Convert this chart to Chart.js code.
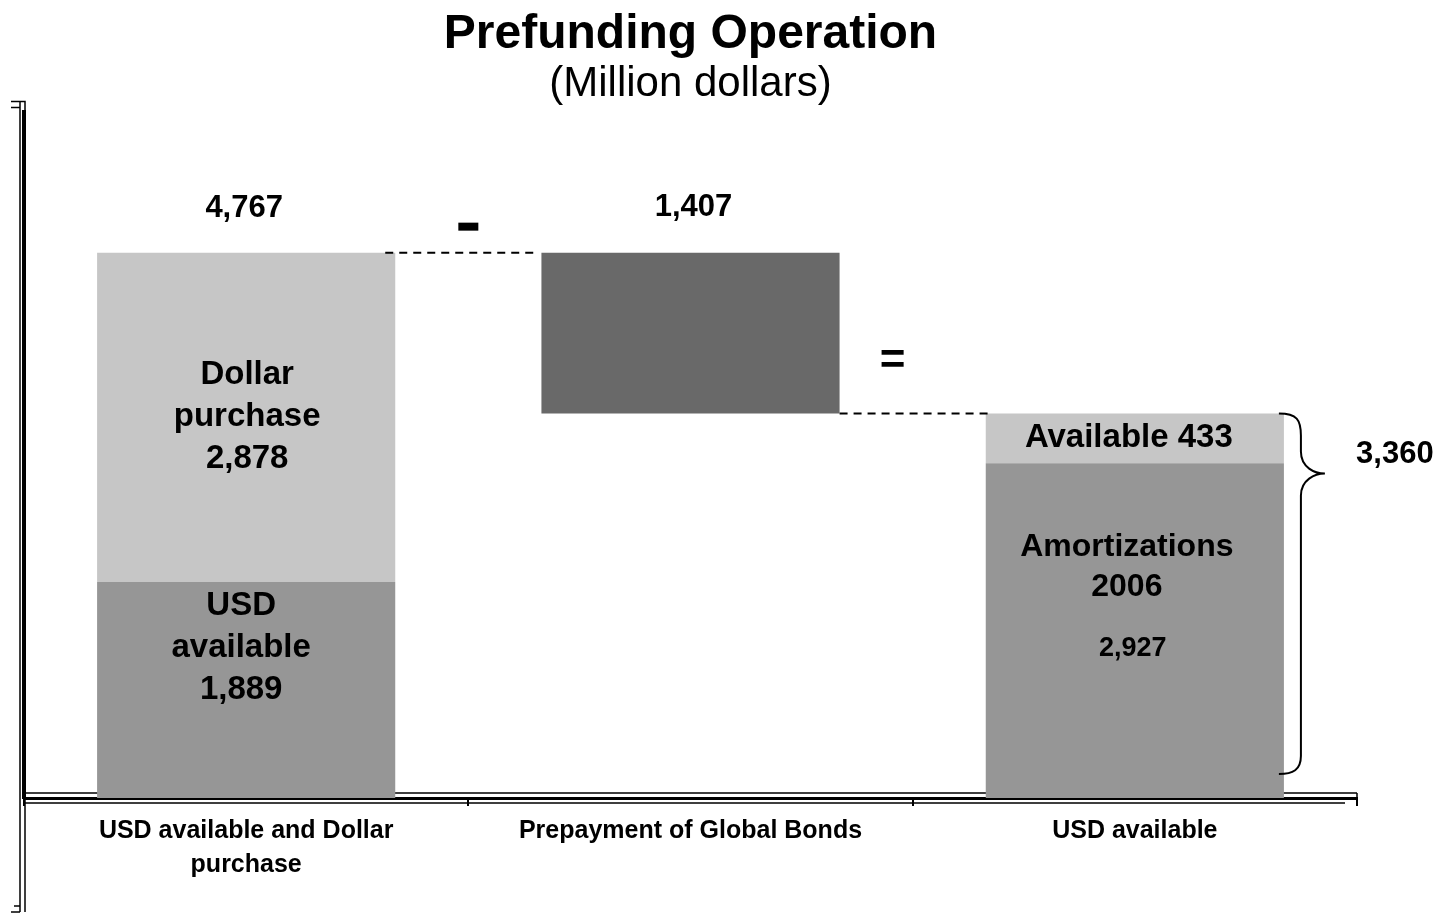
<!DOCTYPE html>
<html>
<head>
<meta charset="utf-8">
<script src="https://cdn.jsdelivr.net/npm/chart.js@4/dist/chart.umd.min.js"></script>
<style>
  html, body { margin: 0; padding: 0; background: #fff; }
  #wrap { width: 1440px; height: 917px; position: relative; }
</style>
</head>
<body>
<div id="wrap"><canvas id="c" width="1440" height="917"></canvas></div>
<script>
// ---- Data ----
const categories = [['USD available and Dollar', 'purchase'], 'Prepayment of Global Bonds', 'USD available'];
const baseOffset = [0, 3360, 0];          // invisible floor of each bar
const lowerValues = [1889, 1407, 2927];   // lower segment
const upperValues = [2878, 0, 433];       // upper segment
const totals = [4767, 1407, 3360];
const lowerNames = [['USD', 'available'], null, ['Amortizations', '2006']];
const upperNames = [['Dollar', 'purchase'], null, ['Available']];
const titleText = 'Prefunding Operation';
const subtitleText = '(Million dollars)';

const FONT = "'Liberation Sans', Arial, Helvetica, sans-serif";
const LIGHT = '#c6c6c6', MID = '#969696', DARK = '#696969';
const fmt = v => v.toLocaleString('en-US');

const annotate = {
  id: 'annotate',
  afterDatasetsDraw(chart) {
    const ctx = chart.ctx;
    const ys = chart.scales.y;
    const lo = chart.getDatasetMeta(1).data;
    const half = el => el.width / 2;
    ctx.save();
    ctx.fillStyle = '#000';
    ctx.textAlign = 'center';
    ctx.textBaseline = 'middle';
    const txt = (s, x, y, size) => { ctx.font = 'bold ' + size + 'px ' + FONT; ctx.fillText(s, x, y); };

    // Bar 0
    const b0x = lo[0].x;
    const u0Top = ys.getPixelForValue(totals[0]);
    const mid0 = ys.getPixelForValue(baseOffset[0] + lowerValues[0]);
    txt(fmt(totals[0]), b0x - 2, u0Top - 44, 31);
    const uc0 = (u0Top + mid0) / 2;
    [...upperNames[0], fmt(upperValues[0])].forEach((s, k) => txt(s, b0x + 1, uc0 - 42 + k * 42, 33));
    [...lowerNames[0], fmt(lowerValues[0])].forEach((s, k) => txt(s, b0x - 5, mid0 + 24 + k * 42, 33));

    // Bar 1
    const b1x = lo[1].x;
    const b1Top = ys.getPixelForValue(baseOffset[1] + lowerValues[1]);
    txt(fmt(lowerValues[1]), b1x + 3, b1Top - 45, 31);

    // Bar 2
    const b2x = lo[2].x;
    const t2 = ys.getPixelForValue(totals[2]);
    const mid2 = ys.getPixelForValue(lowerValues[2]);
    txt(upperNames[2][0] + ' ' + fmt(upperValues[2]), b2x - 6, (t2 + mid2) / 2, 33);
    lowerNames[2].forEach((s, k) => txt(s, b2x - 8, mid2 + 84 + k * 40, 32));
    txt(fmt(lowerValues[2]), b2x - 2, mid2 + 185, 27);

    // operators
    const bound01 = (lo[0].x + lo[1].x) / 2, bound12 = (lo[1].x + lo[2].x) / 2;
    ctx.fillRect(bound01 - 10, ys.getPixelForValue(totals[0]) - 30, 20, 8);
    txt('=', bound12 - 20, ys.getPixelForValue(totals[2]) - 52, 44);

    // dashed connectors
    ctx.strokeStyle = '#000';
    ctx.lineWidth = 2;
    ctx.setLineDash([8, 6]);
    let yA = ys.getPixelForValue(totals[0]);
    ctx.beginPath(); ctx.moveTo(lo[0].x + half(lo[0]) - 10, yA); ctx.lineTo(lo[1].x - half(lo[1]) - 8, yA); ctx.stroke();
    let yB = ys.getPixelForValue(baseOffset[1]);
    ctx.beginPath(); ctx.moveTo(lo[1].x + half(lo[1]), yB); ctx.lineTo(lo[2].x - half(lo[2]) + 3, yB); ctx.stroke();
    ctx.setLineDash([]);

    // curly brace for total of bar 2
    const bx = lo[2].x + half(lo[2]) - 5;
    const top = t2, bot = ys.getPixelForValue(0) - 24, tip = top + 60;
    const vx = bx + 22, tx = bx + 46;
    ctx.lineWidth = 2;
    ctx.beginPath();
    ctx.moveTo(bx, top);
    ctx.bezierCurveTo(bx + 18, top, vx, top + 6, vx, top + 22);
    ctx.lineTo(vx, tip - 22);
    ctx.bezierCurveTo(vx, tip - 6, tx - 10, tip, tx, tip);
    ctx.bezierCurveTo(tx - 10, tip, vx, tip + 6, vx, tip + 22);
    ctx.lineTo(vx, bot - 18);
    ctx.bezierCurveTo(vx, bot - 4, bx + 14, bot, bx, bot);
    ctx.stroke();
    txt(fmt(totals[2]), lo[2].x + half(lo[2]) + 111, top + 41, 31);

    ctx.restore();
  },
  beforeDatasetsDraw(chart) {
    // extra axis strokes (double rules as in the original)
    const ctx = chart.ctx, a = chart.chartArea;
    ctx.save();
    ctx.strokeStyle = '#000';
    ctx.lineWidth = 1.5;
    ctx.beginPath();
    ctx.moveTo(a.left - 4, a.top - 10); ctx.lineTo(a.left - 4, 912);
    ctx.moveTo(a.left + 1, a.bottom); ctx.lineTo(a.left + 1, 912);
    ctx.moveTo(a.left - 13, a.top - 10); ctx.lineTo(a.left + 1, a.top - 10); ctx.lineTo(a.left + 1, a.top + 8);
    ctx.moveTo(a.left - 13, a.top - 4); ctx.lineTo(a.left - 4, a.top - 4);
    ctx.moveTo(a.left - 13, 912); ctx.lineTo(a.left - 4, 912);
    ctx.moveTo(a.left - 10, 906); ctx.lineTo(a.left - 4, 906);
    ctx.moveTo(a.left, a.bottom - 5); ctx.lineTo(a.right, a.bottom - 5);
    ctx.moveTo(a.left, a.bottom + 5); ctx.lineTo(a.right - 12, a.bottom + 5);
    ctx.moveTo(a.right, a.bottom - 5); ctx.lineTo(a.right, a.bottom + 6);
    ctx.stroke();
    ctx.restore();
  }
};

new Chart(document.getElementById('c'), {
  type: 'bar',
  data: {
    labels: categories,
    datasets: [
      { label: 'base', data: baseOffset, backgroundColor: 'rgba(0,0,0,0)', borderWidth: 0 },
      { label: 'lower', data: lowerValues, backgroundColor: [MID, DARK, MID], borderWidth: 0 },
      { label: 'upper', data: upperValues, backgroundColor: [LIGHT, LIGHT, LIGHT], borderWidth: 0 }
    ]
  },
  options: {
    responsive: false,
    animation: false,
    events: [],
    layout: { padding: { left: 24, right: 83, top: 0, bottom: 27 } },
    datasets: { bar: { barPercentage: 0.671, categoryPercentage: 1.0 } },
    plugins: {
      legend: { display: false },
      tooltip: { enabled: false },
      title: {
        display: true, text: titleText, color: '#000',
        font: { family: FONT, size: 48, weight: 'bold', lineHeight: 1.2 },
        padding: { top: 6, bottom: 0 }
      },
      subtitle: {
        display: true, text: subtitleText, color: '#000',
        font: { family: FONT, size: 42, weight: 'normal', lineHeight: 1.0 },
        padding: { top: 0, bottom: 6 }
      }
    },
    scales: {
      x: {
        stacked: true,
        grid: { display: true, drawOnChartArea: false, drawTicks: true, tickLength: 8, color: '#000', lineWidth: 2, offset: true },
        border: { display: true, color: '#000', width: 3 },
        ticks: { color: '#000', font: { family: FONT, size: 25, weight: 'bold', lineHeight: 1.36 }, padding: 8, maxRotation: 0, autoSkip: false }
      },
      y: {
        stacked: true, min: 0, max: 6000,
        grid: { display: false },
        border: { display: true, color: '#000', width: 4 },
        ticks: { display: false },
        afterFit(scale) { scale.width = 0; }
      }
    }
  },
  plugins: [annotate]
});
</script>
</body>
</html>
